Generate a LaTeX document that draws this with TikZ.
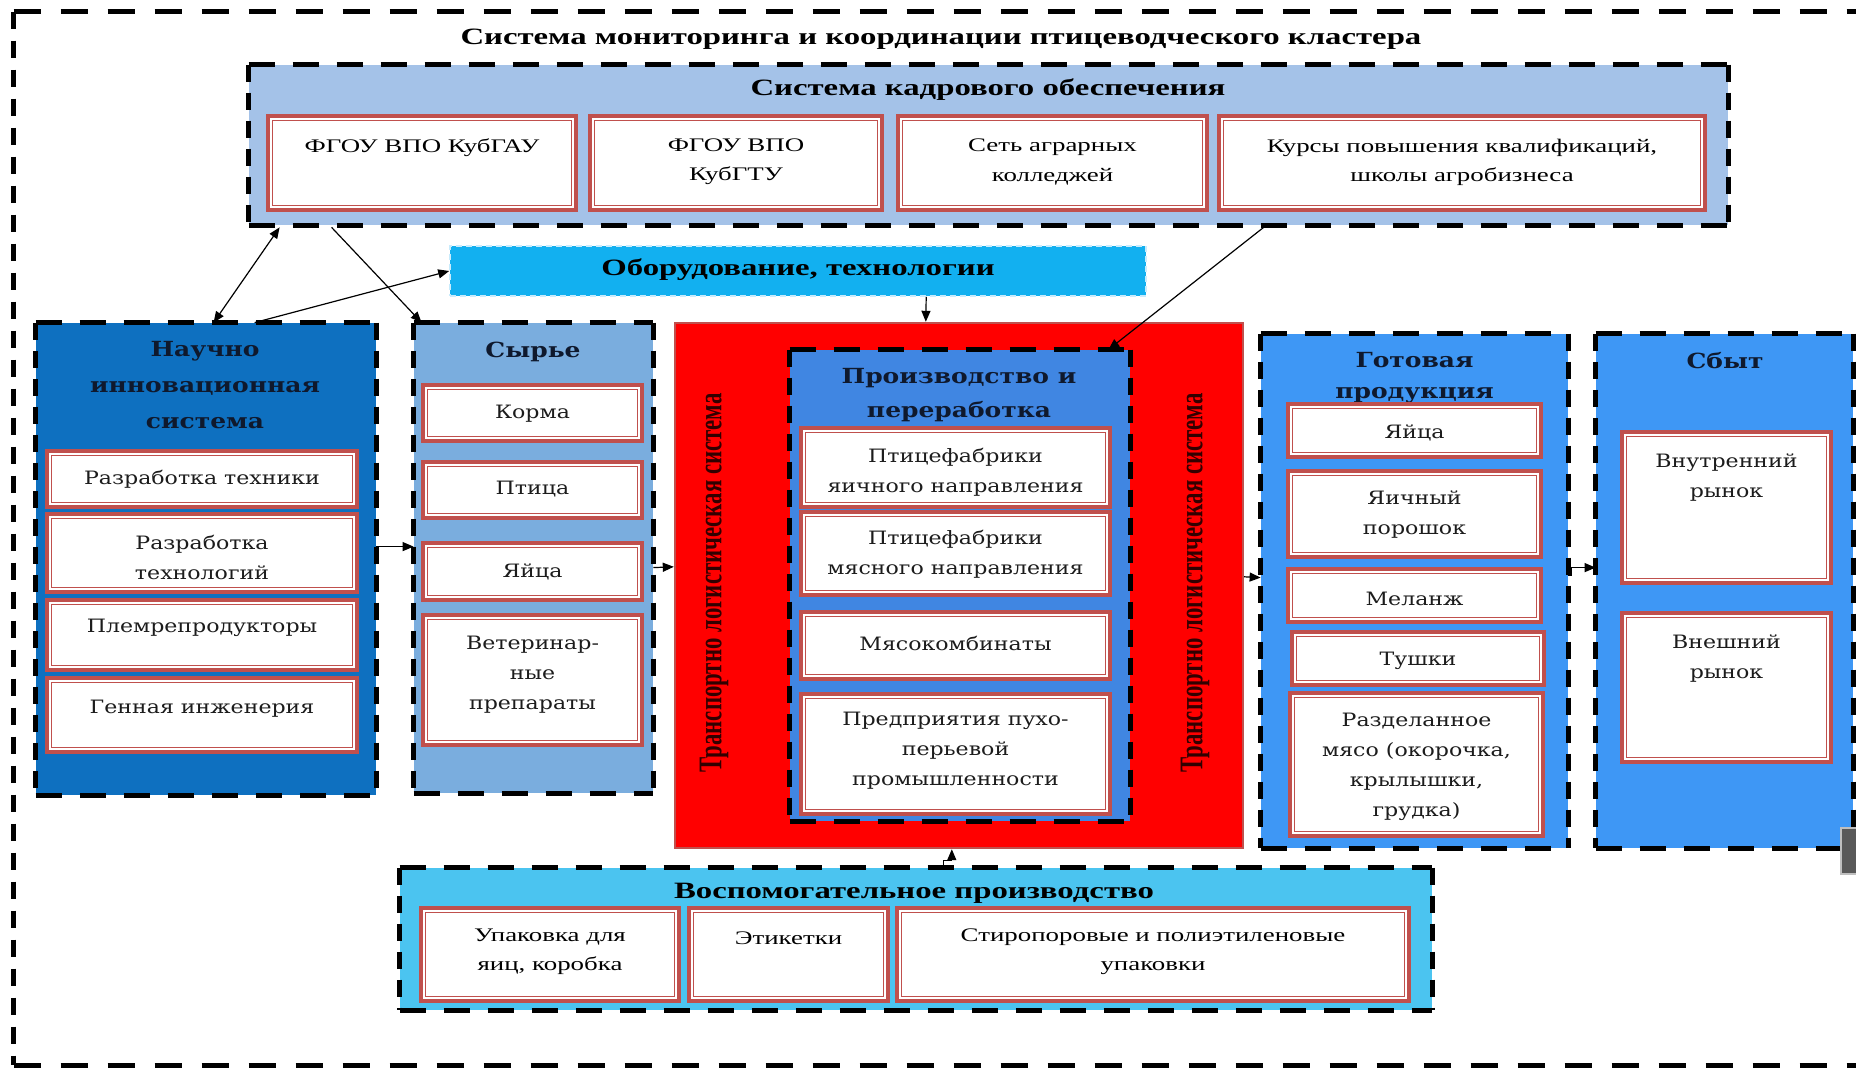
\documentclass[tikz,border=0pt]{standalone}
\usepackage{fontspec}
\setmainfont{Liberation Serif}
\newfontfamily\fTR[FakeStretch=1.4]{Liberation Serif}
\newfontfamily\fCam[FakeStretch=1.2]{DejaVu Serif}
\newfontfamily\fTRv{Liberation Serif}
\usetikzlibrary{fit,calc,arrows.meta}
\definecolor{brd}{RGB}{192,80,77}
\definecolor{kadrF}{RGB}{164,194,232}
\definecolor{oborF}{RGB}{18,176,240}
\definecolor{nauchF}{RGB}{14,112,192}
\definecolor{syrF}{RGB}{122,173,222}
\definecolor{prodF}{RGB}{64,134,226}
\definecolor{gotF}{RGB}{62,151,245}
\definecolor{vspF}{RGB}{75,196,240}
\definecolor{navy}{RGB}{15,25,45}
\definecolor{txt}{RGB}{28,28,28}
\definecolor{trtxt}{RGB}{50,0,0}
\tikzset{
 hdash/.style={line width=2.4pt, dash pattern=on 13pt off 9pt},
 vdash/.style={line width=2.4pt, dash pattern=on 8.5pt off 5.5pt},
 ibox/.style={draw=brd, line width=2.4pt, fill=white, inner sep=0pt,
   path picture={\draw[brd, line width=0.5pt]
     ([shift={(2.1pt,-2.1pt)}]path picture bounding box.north west) rectangle
     ([shift={(-2.1pt,2.1pt)}]path picture bounding box.south east);}},
 tip/.tip={Triangle[length=5.5pt,width=4.5pt]},
 arr/.style={line width=0.6pt, -tip},
 darr/.style={line width=0.6pt, tip-tip},
 ttl/.style={font=\fTR\bfseries\fontsize{11.7}{14}\selectfont, text=black, inner sep=0pt},
 tb/.style={font=\fTR\fontsize{9.6}{14.6}\selectfont, align=center, inner sep=0pt, text=black},
 cb/.style={font=\fCam\fontsize{9.2}{15}\selectfont, align=center, inner sep=0pt, text=txt},
 ct/.style={font=\fCam\bfseries\fontsize{10.4}{18}\selectfont, align=center, inner sep=0pt, text=navy},
}
% container: name x1 y1 x2 y2 fill
\newcommand\cont[6]{%
  \node[fit={(#2,#3)(#4,#5)}, inner sep=0pt, fill=#6] (#1) {};
  \draw[hdash] (#1.north west) -- (#1.north east) (#1.south west) -- (#1.south east);
  \draw[vdash] (#1.north west) -- (#1.south west) (#1.north east) -- (#1.south east);
}
% inner box: name x1 y1 x2 y2 texty style text
\newcommand\ibx[8]{%
  \node[ibox, fit={(#2,#3)(#4,#5)}] (#1) {};
  \node[#7] (#1t) at ({(#2+#4)/2},#6) {#8};
}
\begin{document}
\begin{tikzpicture}[x=0.5pt,y=-0.5pt]
\useasboundingbox (0,0) rectangle (1856,1069);
\fill[white] (0,0) rectangle (1856,1069);
% outer frame
\node[fit={(14,12)(1885,1065)}, inner sep=0pt] (frame) {};
\draw[line width=2.5pt, dash pattern=on 13.5pt off 10pt] (frame.north west) -- (frame.north east) (frame.south west) -- (frame.south east);
\draw[line width=2.5pt, dash pattern=on 8.5pt off 6pt] (frame.north west) -- (frame.south west);
\node[ttl] (title) at (941,39) {Система мониторинга и координации птицеводческого кластера};

% kadr
\cont{kadr}{249}{65}{1728}{225}{kadrF}
\node[ttl] (kadrt) at (988,90) {Система кадрового обеспечения};
\ibx{k1}{268}{116}{576}{210}{148}{tb}{ФГОУ ВПО КубГАУ}
\ibx{k2}{590}{116}{882}{210}{162}{tb}{ФГОУ ВПО\\КубГТУ}
\ibx{k3}{898}{116}{1207}{210}{162}{tb}{Сеть аграрных\\колледжей}
\ibx{k4}{1219}{116}{1705}{210}{162}{tb}{Курсы повышения квалификаций,\\школы агробизнеса}

% oborudovanie
\node[fit={(450,246)(1146,296)}, inner sep=0pt, fill=oborF, draw={rgb,255:red,200;green,235;blue,252}, line width=0.8pt, dash pattern=on 3pt off 2pt] (obor) {};
\node[ttl] (obort) at (798,270) {Оборудование, технологии};

% nauch
\cont{nauch}{36}{323}{376}{795}{nauchF}
\node[ct] (naucht) at (205,385) {Научно\\инновационная\\система};
\ibx{n1}{47}{451}{357}{507}{479}{cb}{Разработка техники}
\ibx{n2}{47}{514}{357}{592}{557}{cb}{Разработка\\технологий}
\ibx{n3}{47}{600}{357}{670}{628}{cb}{Племрепродукторы}
\ibx{n4}{47}{678}{357}{752}{709}{cb}{Генная инженерия}

% syr
\cont{syr}{414}{323}{653}{793}{syrF}
\node[ct] (syrt) at (533,352) {Сырье};
\ibx{s1}{423}{385}{642}{441}{414}{cb}{Корма}
\ibx{s2}{423}{462}{642}{518}{489}{cb}{Птица}
\ibx{s3}{423}{543}{642}{600}{572}{cb}{Яйца}
\ibx{s4}{423}{615}{642}{745}{675}{cb}{Ветеринар-\\ные\\препараты}

% transport
\node[fit={(675,323)(1243,848)}, inner sep=0pt, fill=red, draw=brd, line width=1.2pt] (trans) {};
\node[rotate=90, font=\fTRv\bfseries\fontsize{11.4}{14}\selectfont, text=trtxt, inner sep=0pt] (trl) at (714,583) {\scalebox{1}[1.45]{Транспортно логистическая система}};
\node[rotate=90, font=\fTRv\bfseries\fontsize{11.4}{14}\selectfont, text=trtxt, inner sep=0pt] (trr) at (1195,583) {\scalebox{1}[1.45]{Транспортно логистическая система}};

% prod
\cont{prod}{790}{350}{1130}{821}{prodF}
\node[ct, font=\fCam\bfseries\fontsize{10.4}{17}\selectfont] (prodt) at (959,395) {Производство и\\переработка};
\ibx{p1}{801}{428}{1110}{507}{472}{cb}{Птицефабрики\\яичного направления}
\ibx{p2}{801}{512}{1110}{595}{554.5}{cb}{Птицефабрики\\мясного направления}
\ibx{p3}{801}{612}{1110}{679}{643}{cb}{Мясокомбинаты}
\ibx{p4}{801}{694}{1110}{814}{751}{cb}{Предприятия пухо-\\перьевой\\промышленности}

% got
\cont{got}{1261}{334}{1568}{848}{gotF}
\node[ct, font=\fCam\bfseries\fontsize{10.4}{15.5}\selectfont] (gott) at (1414.5,378) {Готовая\\продукция};
\ibx{g1}{1288}{404}{1541}{457}{433}{cb}{Яйца}
\ibx{g2}{1288}{471}{1541}{557}{515}{cb}{Яичный\\порошок}
\ibx{g3}{1288}{569}{1541}{622}{599}{cb}{Меланж}
\ibx{g4}{1292}{632}{1544}{685}{661}{cb}{Тушки}
\ibx{g5}{1290}{693}{1543}{836}{767}{cb}{Разделанное\\мясо (окорочка,\\крылышки,\\грудка)}

% sbyt
\cont{sbyt}{1596}{334}{1853}{848}{gotF}
\node[ct] (sbytt) at (1725,361) {Сбыт};
\ibx{b1}{1622}{432}{1831}{583}{477.5}{cb}{Внутренний\\рынок}
\ibx{b2}{1622}{613}{1831}{762}{658.5}{cb}{Внешний\\рынок}
\fill[gray!70!black] (1842,829) rectangle (1857,873);
\draw[gray!50, line width=0.8pt] (1841,828) rectangle (1858,874);

% vspom
\cont{vspom}{400}{868}{1432}{1010}{vspF}
\node[ttl] (vspomt) at (914,893) {Воспомогательное производство};
\ibx{v1}{421}{908}{679}{1001}{952}{tb}{Упаковка для\\яиц, коробка}
\ibx{v2}{689}{908}{888}{1001}{938}{tb}{Этикетки}
\ibx{v3}{897}{908}{1409}{1001}{952}{tb}{Стиропоровые и полиэтиленовые\\упаковки}

% connectors
\draw[darr] ($(kadr.south west)+(31,2)$) -- ($(nauch.north west)+(178,0)$);
\draw[arr] ($(kadr.south west)+(83,2)$) -- ($(syr.north west)+(8,0)$);
\draw[arr] ($(nauch.north west)+(219,0)$) -- (obor.west);
\draw[arr] ($(obor.south west)+(477,0)$) -- ($(trans.north west)+(252,0)$);
\draw[arr] ($(kadr.south west)+(1015,2)$) -- ($(prod.north east)+(-22,0)$);
\draw[arr] ($(nauch.north east)+(0,224)$) -- ($(syr.north west)+(0,224)$);
\draw[arr] ($(syr.north east)+(0,245)$) -- ($(trans.north west)+(0,245)$);
\draw[arr] ($(trans.north east)+(0,255)$) -- ($(got.north west)+(0,244)$);
\draw[arr] ($(got.north east)+(0,242)$) -- ++(3,0) |- ($(sbyt.north west)+(0,234)$);
\draw[arr] ($(vspom.north west)+(544,0)$) -- ++(0,-7) -| ($(trans.south west)+(278,0)$);
\end{tikzpicture}
\end{document}
